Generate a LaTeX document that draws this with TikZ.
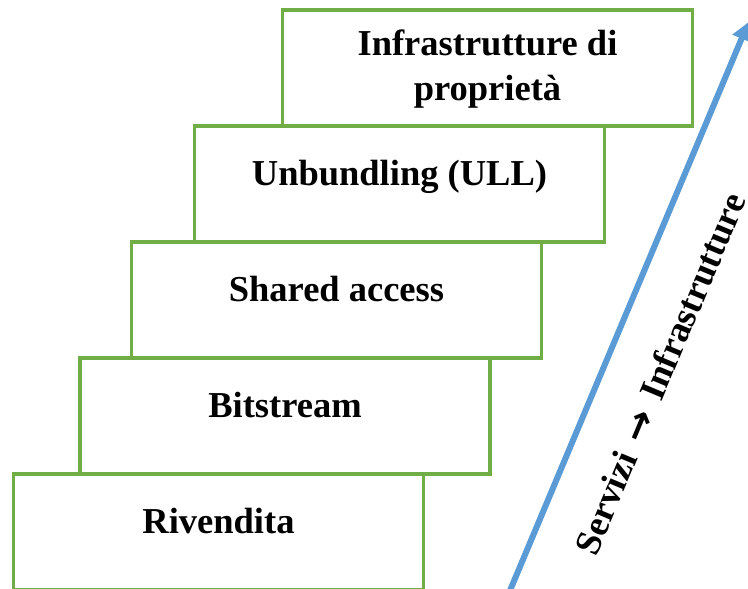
\documentclass[tikz,border=0pt]{standalone}
\usepackage{fontspec}
\setmainfont{Liberation Serif}
\newfontfamily\arrowfont{DejaVu Sans}
\usetikzlibrary{arrows.meta}
\definecolor{boxgreen}{HTML}{70AD47}
\definecolor{arrowblue}{HTML}{5B9BD5}
\begin{document}
\begin{tikzpicture}[x=1pt,y=-1pt,
  stepbox/.style={draw=boxgreen, line width=3.5pt, minimum width=410pt, minimum height=116pt, inner sep=0pt, outer sep=0pt, anchor=north west},
  lbl/.style={font=\bfseries\fontsize{36.5}{44}\selectfont, inner sep=0pt, anchor=base},
  dirlbl/.style={font=\bfseries\fontsize{36.5}{44}\selectfont, inner sep=0pt, anchor=base, rotate=67.2},
  dirarrow/.style={draw=arrowblue, line width=6pt, -{Triangle[length=18pt,width=19pt,fill=arrowblue]}}
]
\useasboundingbox (0,0) rectangle (748,589);
% steps
\node[stepbox] (riv) at (13.5,474) {};
\node[stepbox] (bit) at (80,358) {};
\node[stepbox] (sha) at (131.5,242) {};
\node[stepbox] (unb) at (194.5,126) {};
\node[stepbox] (inf) at (282.5,10) {};
% labels
\node[lbl] (triv) at ([yshift=-1.5pt]riv.center) {Rivendita};
\node[lbl] (tbit) at ([yshift=-1.5pt]bit.center) {Bitstream};
\node[lbl] (tsha) at ([yshift=-1.5pt]sha.center) {Shared access};
\node[lbl] (tunb) at ([yshift=-1.5pt]unb.center) {Unbundling (ULL)};
\node[lbl] (tinfa) at ([yshift=12pt]inf.center) {Infrastrutture di};
\node[lbl] (tinfb) at ([yshift=-32pt]inf.center) {proprietà};
% direction arrow
\coordinate (as) at (509.8,591);
\coordinate (at) at (748.6,22);
\draw[dirarrow] (as) -- (at);
\node[dirlbl] (dir) at (671.6,378.6) {Servizi \makebox[42pt]{\raisebox{-1pt}{\arrowfont\fontsize{38}{38}\selectfont\bfseries →}} Infrastrutture};
\end{tikzpicture}
\end{document}
